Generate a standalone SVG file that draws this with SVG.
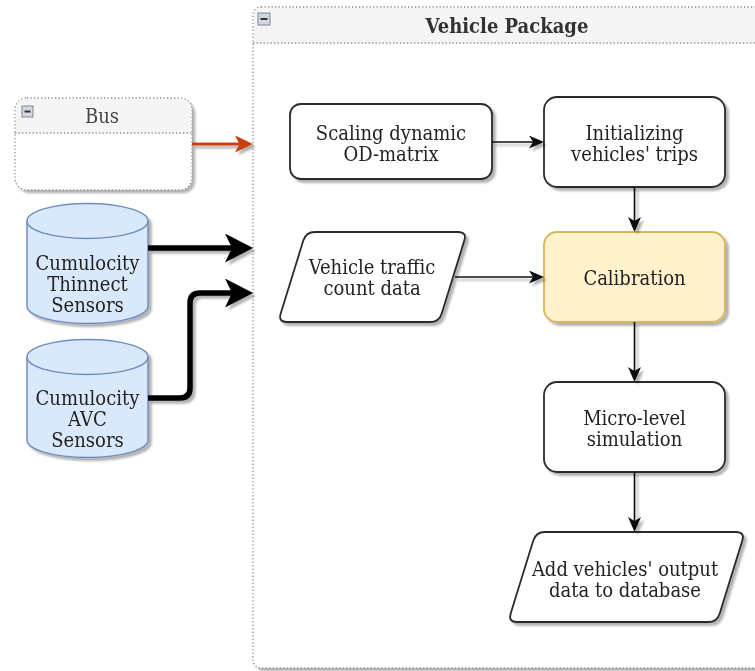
<svg xmlns="http://www.w3.org/2000/svg" width="755" height="671" viewBox="0 0 755 671">
  <style>
    text { font-family: "DejaVu Serif Condensed", "DejaVu Serif", "Liberation Serif", serif; font-stretch: condensed; font-size: 20px; fill: #222; text-anchor: middle; }
    .title { font-weight: bold; fill: #333; }
    .lane { fill: #fff; stroke: #8a8a8a; stroke-width: 1.3; stroke-dasharray: 1.3 2.2; }
    .lanehead { fill: #f5f5f5; stroke: none; }
    .laneline { fill: none; stroke: #8a8a8a; stroke-width: 1.3; stroke-dasharray: 1.3 2.2; }
    .icon { fill: #d4d8de; stroke: #7d8794; stroke-width: 1; }
    .iconbar { stroke: #333; stroke-width: 2; }
    .box { fill: #fff; stroke: #2b2b2b; stroke-width: 1.8; }
    .calib { fill: #fff2cc; stroke: #d6b656; stroke-width: 1.8; }
    .db { fill: #dae8fc; stroke: #6c8ebf; stroke-width: 1.5; }
    .edge { fill: none; stroke: #111; stroke-width: 1.6; }
    .thick { fill: none; stroke: #000; stroke-width: 5.5; }
    .red { fill: none; stroke: #c8400f; stroke-width: 3; }
  </style>
  <defs>
    <filter id="shadow" filterUnits="userSpaceOnUse" x="0" y="0" width="755" height="671">
      <feGaussianBlur in="SourceAlpha" stdDeviation="1"/>
      <feOffset dx="3" dy="3" result="off"/>
      <feComponentTransfer><feFuncA type="linear" slope="0.3"/></feComponentTransfer>
      <feMerge><feMergeNode/><feMergeNode in="SourceGraphic"/></feMerge>
    </filter>
    <marker id="arrow" markerUnits="userSpaceOnUse" markerWidth="17" markerHeight="14" refX="4" refY="6.5" orient="auto">
      <path d="M0,0 L15,6.5 L0,13 L4,6.5 Z" fill="#111"/>
    </marker>
    <marker id="arrowBig" markerUnits="userSpaceOnUse" markerWidth="30" markerHeight="31" refX="7" refY="14.5" orient="auto">
      <path d="M0,0 L28,14.5 L0,29 L7,14.5 Z" fill="#000"/>
    </marker>
    <marker id="arrowRed" markerUnits="userSpaceOnUse" markerWidth="20" markerHeight="19" refX="4.5" refY="8.5" orient="auto">
      <path d="M0,0 L18,8.5 L0,17 L4.5,8.5 Z" fill="#c8400f"/>
    </marker>
  </defs>

  <!-- Vehicle Package container -->
  <g id="vehicle-package" filter="url(#shadow)">
    <rect class="lane" x="253" y="7" width="510" height="661" rx="8"/>
    <path class="lanehead" d="M254,43 L254,15 Q254,8 261,8 L762,8 L762,43 Z"/>
    <line class="laneline" x1="253" y1="43" x2="763" y2="43"/>
    <rect class="icon" x="258" y="13" width="12" height="12"/>
    <line class="iconbar" x1="260.5" y1="19" x2="267.5" y2="19"/>
    <text class="title" x="507" y="33">Vehicle Package</text>
  </g>

  <!-- Bus container -->
  <g id="bus" filter="url(#shadow)">
    <rect class="lane" x="15" y="98" width="177" height="92" rx="12"/>
    <path class="lanehead" d="M16,133 L16,110 Q16,99 27,99 L180,99 Q191,99 191,110 L191,133 Z"/>
    <line class="laneline" x1="15" y1="133" x2="192" y2="133"/>
    <rect class="icon" x="22" y="106" width="11" height="11"/>
    <line class="iconbar" x1="24.5" y1="111.5" x2="30.5" y2="111.5"/>
    <text x="102" y="123" style="fill:#444">Bus</text>
  </g>

  <!-- Sensor databases -->
  <g id="thinnect-sensors" filter="url(#shadow)">
    <path class="db" d="M27,221 A60.5,17.5 0 0 1 148,221 L148,306 A60.5,17.5 0 0 1 27,306 Z"/>
    <path class="db" d="M27,221 A60.5,17.5 0 0 0 148,221" fill="none"/>
    <text x="87.5" y="270">Cumulocity</text>
    <text x="87.5" y="291">Thinnect</text>
    <text x="87.5" y="312">Sensors</text>
  </g>
  <g id="avc-sensors" filter="url(#shadow)">
    <path class="db" d="M27,357 A60.5,17.5 0 0 1 148,357 L148,440 A60.5,17.5 0 0 1 27,440 Z"/>
    <path class="db" d="M27,357 A60.5,17.5 0 0 0 148,357" fill="none"/>
    <text x="87.5" y="405">Cumulocity</text>
    <text x="87.5" y="426">AVC</text>
    <text x="87.5" y="447">Sensors</text>
  </g>

  <!-- Process steps -->
  <g id="scaling-od-matrix" filter="url(#shadow)">
    <rect class="box" x="290" y="104" width="202" height="75" rx="11"/>
    <text x="391" y="140">Scaling dynamic</text>
    <text x="391" y="161">OD-matrix</text>
  </g>
  <g id="initializing-trips" filter="url(#shadow)">
    <rect class="box" x="544" y="97" width="181" height="90" rx="13"/>
    <text x="634.5" y="140">Initializing</text>
    <text x="634.5" y="161">vehicles' trips</text>
  </g>
  <g id="traffic-count-data" filter="url(#shadow)">
    <path class="box" d="M315,232 L458,232 Q467,232 464.3,240.6 L441.7,313.4 Q439,322 430,322 L287,322 Q278,322 280.7,313.4 L303.3,240.6 Q306,232 315,232 Z"/>
    <text x="372" y="274">Vehicle traffic</text>
    <text x="372" y="295">count data</text>
  </g>
  <g id="calibration" filter="url(#shadow)">
    <rect class="calib" x="544" y="232" width="181" height="90" rx="13"/>
    <text x="634.5" y="285">Calibration</text>
  </g>
  <g id="micro-simulation" filter="url(#shadow)">
    <rect class="box" x="544" y="382" width="181" height="90" rx="13"/>
    <text x="634.5" y="425">Micro-level</text>
    <text x="634.5" y="446">simulation</text>
  </g>
  <g id="output-to-database" filter="url(#shadow)">
    <path class="box" d="M545,532 L736,532 Q745,532 742.3,540.6 L719.7,613.4 Q717,622 708,622 L517,622 Q508,622 510.7,613.4 L533.3,540.6 Q536,532 545,532 Z"/>
    <text x="625" y="576">Add vehicles' output</text>
    <text x="625" y="597">data to database</text>
  </g>

  <!-- Connectors -->
  <g id="connectors" filter="url(#shadow)">
    <path class="red" d="M192,144 L239.5,144" marker-end="url(#arrowRed)"/>
    <path class="thick" d="M148,248 L232,248" marker-end="url(#arrowBig)"/>
    <path class="thick" d="M148,398 L180,398 Q190,398 190,388 L190,303 Q190,293 200,293 L232,293" marker-end="url(#arrowBig)"/>
    <path class="edge" d="M492,142 L533,142" marker-end="url(#arrow)"/>
    <path class="edge" d="M634.5,187 L634.5,221" marker-end="url(#arrow)"/>
    <path class="edge" d="M455,277 L533,277" marker-end="url(#arrow)"/>
    <path class="edge" d="M634.5,322 L634.5,371" marker-end="url(#arrow)"/>
    <path class="edge" d="M634.5,472 L634.5,521" marker-end="url(#arrow)"/>
  </g>
</svg>
